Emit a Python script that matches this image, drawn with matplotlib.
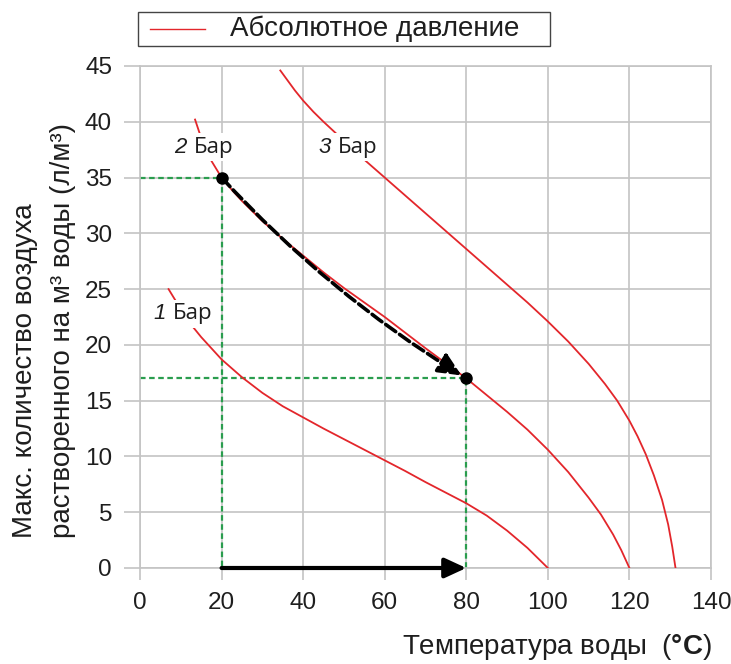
import matplotlib
matplotlib.use("Agg")
import matplotlib.pyplot as plt
from matplotlib.patches import Rectangle
from matplotlib.lines import Line2D

# ─────────────────────────────────────────────────────────────────────────────
# DATA
# 1 bar absolute
t_1bar = [7, 9, 11, 13, 15, 17.5, 20, 25, 30, 35, 40, 45, 50, 55, 60, 65, 70,
          75, 80, 85, 90, 95, 100]
v_1bar = [25.0, 23.8, 22.6, 21.6, 20.7, 19.7, 18.7, 17.1, 15.7, 14.5, 13.5,
          12.5, 11.55, 10.6, 9.65, 8.7, 7.7, 6.75, 5.8, 4.7, 3.35, 1.8, 0.0]
# 2 bar absolute
t_2bar = [13.5, 14.5, 16, 17.5, 20, 22.5, 25, 30, 35, 40, 45, 50, 55, 60, 65,
          70, 75, 80, 85, 90, 95, 100, 105, 110, 113, 116, 118, 120]
v_2bar = [40.2, 39.1, 37.6, 36.5, 35.0, 33.9, 32.9, 31.1, 29.5, 28.0, 26.5,
          25.1, 23.8, 22.5, 21.1, 19.7, 18.35, 17.0, 15.5, 14.0, 12.4, 10.6,
          8.6, 6.3, 4.8, 3.0, 1.6, 0.0]
# 3 bar absolute
t_3bar = [34.4, 36, 38, 40, 42.5, 45, 50, 55, 60, 65, 70, 75, 80, 85, 90, 95,
          100, 105, 110, 114, 117, 120, 122, 124, 126, 128, 129.5, 130.5,
          131.3]
v_3bar = [44.6, 43.8, 42.8, 41.9, 40.9, 40.0, 38.3, 36.6, 35.0, 33.4, 31.8,
          30.2, 28.6, 27.0, 25.4, 23.8, 22.1, 20.3, 18.3, 16.5, 15.0, 13.2,
          11.8, 10.2, 8.3, 6.1, 3.9, 1.9, 0.0]

# example: water heated from 20 to 80 °C at 2 bar
state_t = [20, 80]
state_v = [35, 17]

curve_labels = [("1", 7.2, 22.8), ("2", 12.3, 37.7), ("3", 47.7, 37.7)]
x_ticks = [0, 20, 40, 60, 80, 100, 120, 140]
y_ticks = [0, 5, 10, 15, 20, 25, 30, 35, 40, 45]
# ─────────────────────────────────────────────────────────────────────────────

W, H = 731, 664
RED = "#e3262b"
GREEN = "#2a9d4e"
GRID = "#c4c4c4"
TXT = "#1e1e1e"

plt.rcParams["font.family"] = ["Liberation Sans", "DejaVu Sans"]
plt.rcParams["mathtext.fontset"] = "custom"
plt.rcParams["mathtext.rm"] = "Liberation Sans"
plt.rcParams["mathtext.bf"] = "Liberation Sans:bold"

fig = plt.figure(figsize=(W / 100, H / 100), dpi=100)
ax = fig.add_axes([140 / W, 1 - 568 / H, (711 - 140) / W, (568 - 66) / H])

# curves
for t, v in [(t_1bar, v_1bar), (t_2bar, v_2bar), (t_3bar, v_3bar)]:
    ax.plot(t, v, color=RED, lw=1.3, zorder=3, solid_joinstyle="round")

# green guide lines
for t, v in zip(state_t, state_v):
    ax.plot([0, t, t], [v, v, 0], color=GREEN, lw=1.6,
            linestyle=(0, (2.5, 1.6)), zorder=2)

# black dashed arrow along the 2 bar curve
ax.annotate("", xy=(state_t[1], state_v[1]), xytext=(state_t[0], state_v[0]),
            arrowprops=dict(arrowstyle="-|>,head_length=0.7,head_width=0.32",
                            mutation_scale=20, color="black", lw=2.6,
                            linestyle=(0, (3.4, 1.3)),
                            connectionstyle="arc3,rad=0.07",
                            shrinkA=0, shrinkB=4),
            zorder=4)

# solid black arrow on x axis
ax.annotate("", xy=(state_t[1], 0), xytext=(state_t[0], 0),
            arrowprops=dict(arrowstyle="-|>,head_length=0.65,head_width=0.3",
                            mutation_scale=20, color="black", lw=3,
                            shrinkA=0, shrinkB=0),
            zorder=4)

# state points
ax.plot(state_t, state_v, "o", color="black", ms=8, zorder=5)

# curve labels "N Бар"
box = dict(facecolor="white", edgecolor="none", pad=2.5)
for num, x, y in curve_labels:
    ax.annotate(num, (x, y), xytext=(-2.5, 0), textcoords="offset points",
                ha="right", va="center", fontsize=16, style="italic",
                color=TXT, bbox=box, zorder=6)
    ax.annotate("Бар", (x, y), xytext=(2.5, 0), textcoords="offset points",
                ha="left", va="center", fontsize=16, color=TXT,
                family=["Open Sans", "DejaVu Sans"], bbox=box, zorder=6)

# axes styling
ax.set_xlim(0, 140)
ax.set_ylim(0, 45)
ax.set_xticks(x_ticks)
ax.set_yticks(y_ticks)
ax.grid(True, color=GRID, lw=1.2)
ax.set_axisbelow(True)
for s in ax.spines.values():
    s.set_color(GRID)
    s.set_linewidth(1.2)
ax.tick_params(axis="x", length=8.6, width=1.2, color=GRID, pad=8.6,
               labelsize=17.5, labelcolor=TXT)
ax.tick_params(axis="y", length=11.5, width=1.2, color=GRID, pad=8.6,
               labelsize=17.5, labelcolor=TXT)

# axis titles
fig.text(712 / W, 1 - 654 / H, r"Температура воды  ($\mathbf{°C}$)",
         ha="right", va="baseline", fontsize=20, color=TXT,
         rotation_mode="anchor")
fig.text(32 / W, 1 - 538 / H, "Макс. количество воздуха", rotation=90,
         ha="left", va="baseline", rotation_mode="anchor", fontsize=20,
         color=TXT)
fig.text(70 / W, 1 - 538 / H, "растворенного на м³ воды (л/м³)", rotation=90,
         ha="left", va="baseline", rotation_mode="anchor", fontsize=20,
         color=TXT)

# legend box at the top
fig.add_artist(Rectangle((138 / W, 1 - 46 / H), 412 / W, 34 / H,
                         transform=fig.transFigure, fill=False,
                         edgecolor="#444444", lw=1))
fig.add_artist(Line2D([150 / W, 205 / W], [1 - 29 / H] * 2,
                      transform=fig.transFigure, color=RED, lw=1))
fig.text(230 / W, 1 - 29 / H, "Абсолютное давление", ha="left", va="center",
         fontsize=20, color=TXT)

fig.savefig("out.png", dpi=100, facecolor="white")
